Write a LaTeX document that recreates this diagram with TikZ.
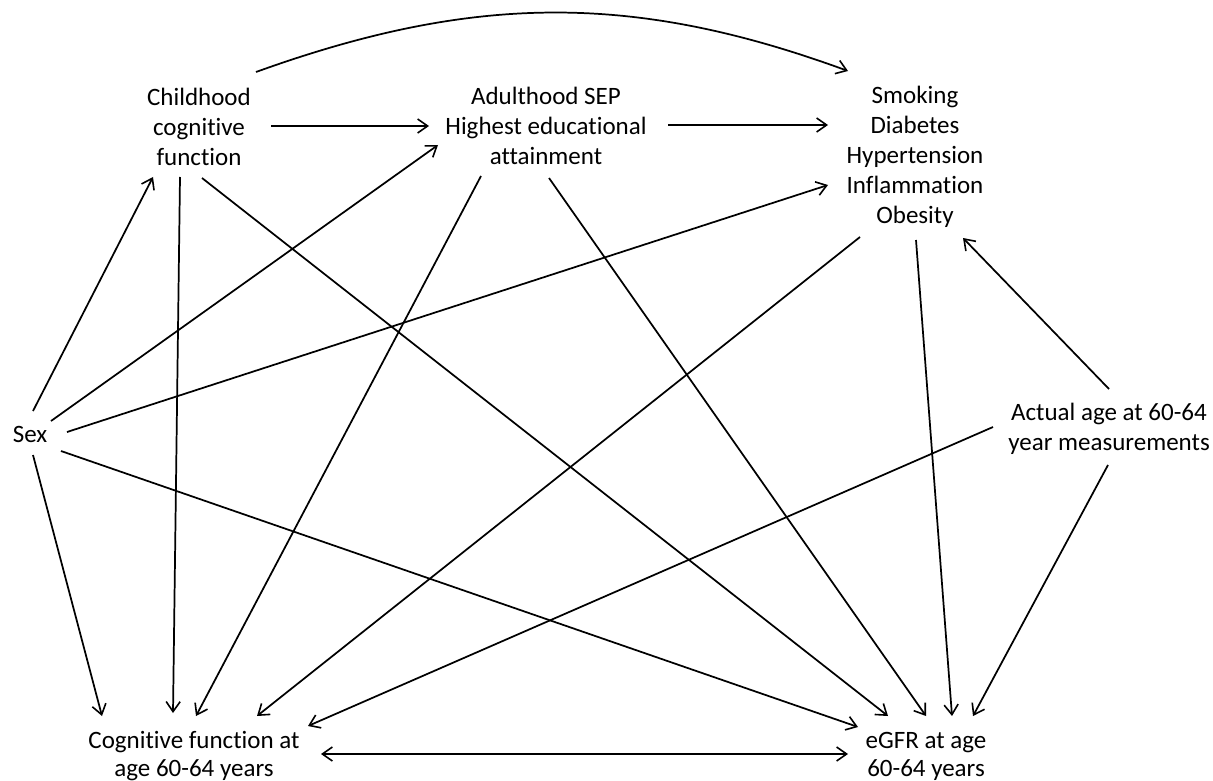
\documentclass[tikz,border=0pt]{standalone}
\usepackage{fontspec}
\setmainfont{Carlito}[Ligatures={NoCommon}]
\usetikzlibrary{arrows.meta,calc}
\tikzset{
  lbl/.style={align=center,inner sep=0pt,font=\fontsize{18.75}{22.5}\selectfont},
  lblb/.style={align=center,inner sep=0pt,font=\fontsize{18.75}{21}\selectfont},
  tip/.style={},
  arr/.style={line width=1.3pt,-{Straight Barb[length=7.5pt,width=10.5pt,line width=1.2pt]}},
  darr/.style={line width=1.5pt,{Straight Barb[length=7.5pt,width=10.5pt,line width=1.2pt]}-{Straight Barb[length=7.5pt,width=10.5pt,line width=1.2pt]}}
}
\begin{document}
\begin{tikzpicture}[x=0.75pt,y=-0.75pt]
\useasboundingbox (0,0) rectangle (1213,781);
\node[lbl] (child) at (199,127) {Childhood\\cognitive\\function};
\node[lbl] (adult) at (546,126) {Adulthood SEP\\Highest educational\\attainment};
\node[lbl] (smoke) at (915,157) {Smoking\\Diabetes\\Hypertension\\Inflammation\\Obesity};
\node[lbl] (sex) at (30,434) {Sex};
\node[lbl] (actual) at (1109,429) {Actual age at 60-64\\year measurements};
\node[lblb] (cog) at (194,756) {Cognitive function at\\age 60-64 years};
\node[lblb] (egfr) at (926,756) {eGFR at age\\60-64 years};

\draw[arr] ($(child)+(72,-1)$) -- ($(adult)+(-117,0)$);
\draw[arr] ($(adult)+(122,-1)$) -- ($(smoke)+(-87,-32)$);
\draw[arr] ($(child)+(57,-55)$) .. controls (475,-7) and (635,-7) .. ($(smoke)+(-67,-86)$);

\draw[arr] ($(sex)+(3,-23)$) -- ($(child)+(-46,50)$);
\draw[arr] ($(sex)+(21,-13)$) -- ($(adult)+(-108,19)$);
\draw[arr] ($(sex)+(37,-2)$) -- ($(smoke)+(-87,28)$);
\draw[arr] ($(sex)+(3,21)$) -- ($(cog)+(-92,-40)$);
\draw[arr] ($(sex)+(31,17)$) -- ($(egfr)+(-68,-29)$);

\draw[arr] ($(child)+(-19,50)$) -- ($(cog)+(-21,-43)$);
\draw[arr] ($(child)+(3,51)$) -- ($(egfr)+(-38,-40)$);
\draw[arr] ($(adult)+(-65,50)$) -- ($(cog)+(2,-40)$);
\draw[arr] ($(adult)+(3,52)$) -- ($(egfr)+(0,-40)$);
\draw[arr] ($(smoke)+(-55,80)$) -- ($(cog)+(63,-40)$);
\draw[arr] ($(smoke)+(1,83)$) -- ($(egfr)+(26,-40)$);

\draw[arr] ($(actual)+(0,-40)$) -- ($(smoke)+(48,81)$);
\draw[arr] ($(actual)+(-116,-2)$) -- ($(cog)+(114,-30)$);
\draw[arr] ($(actual)+(-1,36)$) -- ($(egfr)+(47,-40)$);

\draw[darr] ($(cog)+(127,-2)$) -- ($(egfr)+(-78,-2)$);
\end{tikzpicture}
\end{document}
